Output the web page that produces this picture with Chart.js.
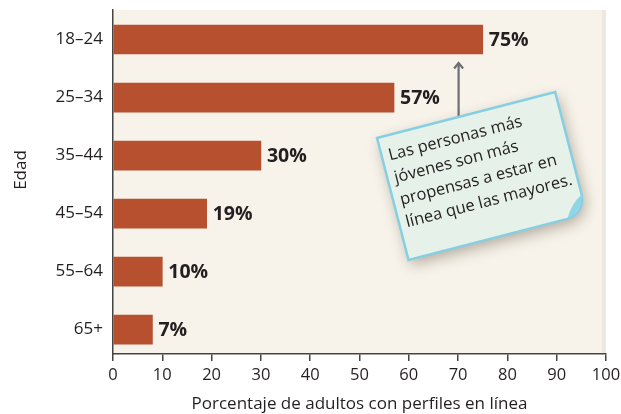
<!DOCTYPE html>
<html><head><meta charset="utf-8">
<script src="https://cdn.jsdelivr.net/npm/chart.js@4/dist/chart.umd.min.js"></script>
<style>html,body{margin:0;padding:0;background:#fff;}#wrap{width:621px;height:414px;}</style>
</head><body><div id="wrap"><canvas id="c" width="621" height="414"></canvas></div>
<script>
const categories = ["18–24", "25–34", "35–44", "45–54", "55–64", "65+"];
const values = [75, 57, 30, 19, 10, 8];
const valueLabels = ["75%", "57%", "30%", "19%", "10%", "7%"];
const xTicks = [0, 10, 20, 30, 40, 50, 60, 70, 80, 90, 100];
const yTitle = "Edad";
const xTitle = "Porcentaje de adultos con perfiles en línea";
const noteLines = ["Las personas más", "jóvenes son más", "propensas a estar en", "línea que las mayores."];
const noteArrowValue = 70;

const FONT = "'Open Sans', sans-serif";
const TXT = "#231f20";

const bgPlugin = {
  id: 'bg',
  beforeDraw(chart) {
    const {ctx, chartArea: a} = chart;
    ctx.save();
    ctx.fillStyle = '#f7f3ea';
    ctx.fillRect(a.left, a.top, a.right - a.left, a.bottom - a.top);
    ctx.fillStyle = 'rgba(0,0,0,0.04)';
    ctx.fillRect(a.right - 4, a.top, 4, a.bottom - a.top);
    ctx.restore();
  }
};

const labelPlugin = {
  id: 'vlabels',
  afterDatasetsDraw(chart) {
    const ctx = chart.ctx;
    const meta = chart.getDatasetMeta(0);
    ctx.save();
    ctx.font = "bold 19.5px " + FONT;
    ctx.fillStyle = TXT;
    ctx.textBaseline = 'middle';
    ctx.textAlign = 'left';
    meta.data.forEach((bar, i) => {
      ctx.fillText(valueLabels[i], bar.x + 6, bar.y + 1);
    });
    ctx.restore();
  }
};

const notePlugin = {
  id: 'note',
  afterDraw(chart) {
    const ctx = chart.ctx;
    const xs = chart.scales.x;
    const ax = xs.getPixelForValue(noteArrowValue) + 0.5;
    const bar0 = chart.getDatasetMeta(0).data[0];
    const arrowTop = bar0.y + bar0.height / 2 + 9;
    ctx.save();
    // arrow
    ctx.strokeStyle = '#6d6e71';
    ctx.lineWidth = 2.2;
    ctx.beginPath();
    ctx.moveTo(ax, arrowTop + 1);
    ctx.lineTo(ax, arrowTop + 56);
    ctx.stroke();
    ctx.beginPath();
    ctx.moveTo(ax - 4.5, arrowTop + 5.5);
    ctx.lineTo(ax, arrowTop);
    ctx.lineTo(ax + 4.5, arrowTop + 5.5);
    ctx.stroke();
    // note box
    const ox = 377, oy = 138, w = 184, h = 126, ang = -14.5 * Math.PI / 180, c = 20;
    ctx.translate(ox, oy);
    ctx.rotate(ang);
    const path = () => {
      ctx.beginPath();
      ctx.moveTo(0, 0);
      ctx.lineTo(w, 0);
      ctx.lineTo(w, h - c);
      ctx.quadraticCurveTo(w - 2, h - 2, w - c, h);
      ctx.lineTo(0, h);
      ctx.closePath();
    };
    ctx.save();
    ctx.shadowColor = 'rgba(60,40,20,0.35)';
    ctx.shadowBlur = 14;
    ctx.shadowOffsetX = 3;
    ctx.shadowOffsetY = 5;
    path();
    ctx.fillStyle = '#e5f1e9';
    ctx.fill();
    ctx.restore();
    path();
    ctx.strokeStyle = '#86cfe3';
    ctx.lineWidth = 2.5;
    ctx.stroke();
    // curl
    ctx.beginPath();
    ctx.moveTo(w, h - c);
    ctx.quadraticCurveTo(w - 12, h - 14, w - c, h);
    ctx.quadraticCurveTo(w - 4, h - 4, w, h - c);
    ctx.fillStyle = '#8fd5e8';
    ctx.fill();
    // text
    ctx.fillStyle = TXT;
    ctx.font = "16.5px " + FONT;
    ctx.textAlign = 'left';
    ctx.textBaseline = 'alphabetic';
    noteLines.forEach((t, i) => ctx.fillText(t, 7, 25 + i * 23));
    ctx.restore();
  }
};

const ytitlePlugin = {
  id: 'ytitle',
  afterDraw(chart) {
    const ctx = chart.ctx;
    ctx.save();
    ctx.translate(21, 170);
    ctx.rotate(-Math.PI / 2);
    ctx.font = "17px " + FONT;
    ctx.fillStyle = TXT;
    ctx.textAlign = 'center';
    ctx.textBaseline = 'middle';
    ctx.fillText(yTitle, 0, 0);
    ctx.restore();
  }
};

new Chart(document.getElementById('c'), {
  type: 'bar',
  data: {
    datasets: [{
      data: values.map((v, i) => ({x: v, y: i})),
      backgroundColor: '#b7502f',
      barThickness: 29,
      borderWidth: 0
    }]
  },
  options: {
    indexAxis: 'y',
    responsive: false,
    animation: false,
    layout: {padding: {top: 10, right: 15, left: 0, bottom: 0}},
    plugins: {legend: {display: false}, tooltip: {enabled: false}},
    scales: {
      x: {
        type: 'linear', min: 0, max: 100, offset: false,
        afterBuildTicks(s) { s.ticks = xTicks.map(v => ({value: v})); },
        afterFit(s) { s.height = 60; s.paddingLeft = 0; s.paddingRight = 0; },
        grid: {drawOnChartArea: false, drawTicks: true, tickLength: 7, color: '#444', lineWidth: 1.5},
        border: {display: true, color: '#444', width: 1.5},
        ticks: {color: TXT, font: {family: FONT, size: 16.5}, padding: 4, maxRotation: 0},
        title: {display: true, text: xTitle, color: TXT, font: {family: FONT, size: 17}, padding: {top: 5, bottom: 0}}
      },
      y: {
        type: 'linear', reverse: true, min: -0.509, max: 5.42, offset: false,
        afterBuildTicks(s) { s.ticks = categories.map((c, i) => ({value: i})); },
        afterFit(s) { s.width = 113; s.paddingTop = 0; s.paddingBottom = 0; },
        grid: {display: false, drawTicks: false},
        border: {display: true, color: '#444', width: 1.5},
        ticks: {color: TXT, font: {family: FONT, size: 17}, padding: 10, callback: (v) => categories[v]}
      }
    }
  },
  plugins: [bgPlugin, labelPlugin, notePlugin, ytitlePlugin]
});
</script>
</body></html>
